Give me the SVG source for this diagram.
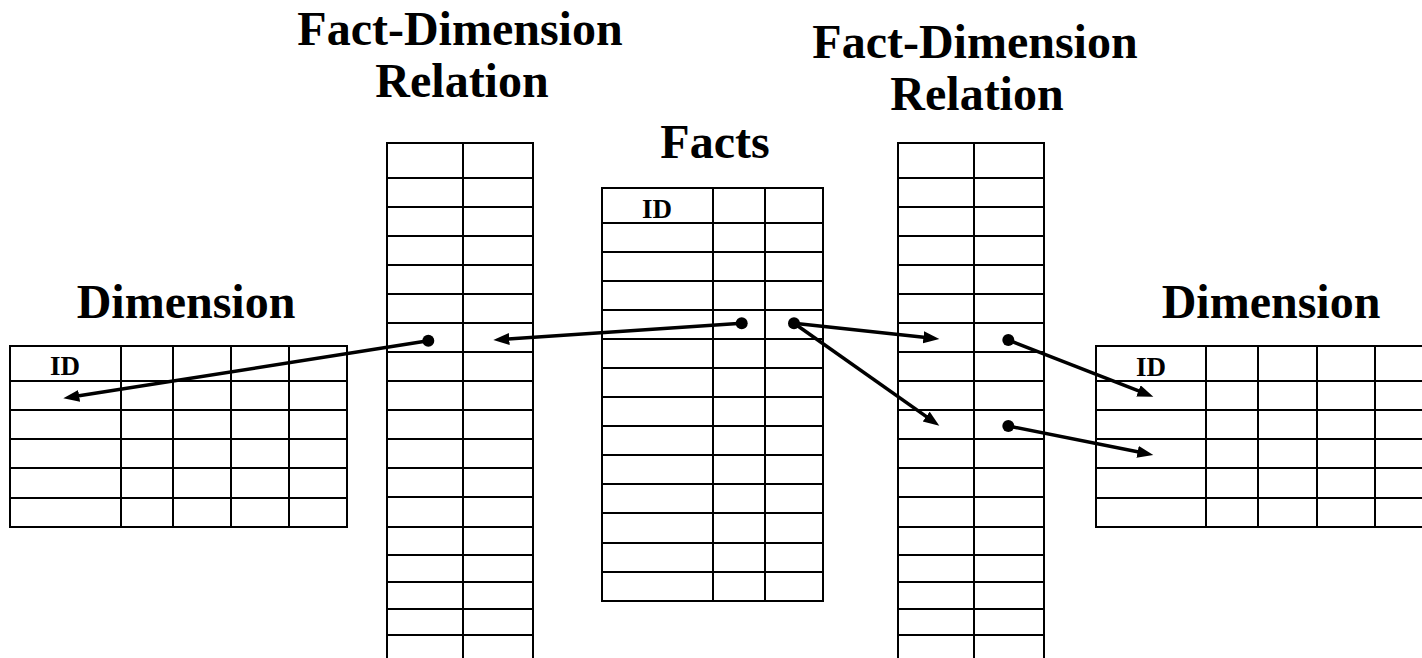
<svg xmlns="http://www.w3.org/2000/svg" width="1422" height="658" viewBox="0 0 1422 658">
<style>
.t{fill:none;stroke:#000;stroke-width:2}
.title{font-family:"Liberation Serif","Times New Roman",serif;font-weight:bold;font-size:48px;text-anchor:middle;fill:#000}
.id{font-family:"Liberation Serif","Times New Roman",serif;font-weight:bold;font-size:27px;text-anchor:middle;fill:#000}
.c{stroke:#000;stroke-width:3.5;fill:none;marker-end:url(#ah)}
.dot{fill:#000}
</style>
<defs>
<marker id="ah" markerUnits="userSpaceOnUse" markerWidth="18" markerHeight="14" refX="5" refY="6" orient="auto">
<path d="M0,0 L16,6 L0,12 z" fill="#000"/>
</marker>
</defs>
<rect width="1422" height="658" fill="#fff"/>

<g id="title-fdr-left">
<text class="title" x="460" y="45">Fact-Dimension</text>
<text class="title" x="462" y="97">Relation</text>
</g>
<g id="title-fdr-right">
<text class="title" x="975" y="58">Fact-Dimension</text>
<text class="title" x="977" y="110">Relation</text>
</g>
<g id="title-facts"><text class="title" x="715" y="158">Facts</text></g>
<g id="title-dim-left"><text class="title" x="186" y="318">Dimension</text></g>
<g id="title-dim-right"><text class="title" x="1271" y="318">Dimension</text></g>

<g id="dim-left" class="t">
<rect x="10" y="346" width="337" height="181"/>
<path d="M10,381H347M10,410H347M10,439H347M10,468H347M10,498H347M121,346V527M173,346V527M231,346V527M289,346V527"/>
<text class="id" x="65" y="375" stroke="none">ID</text>
</g>

<g id="fdr-left" class="t">
<rect x="387" y="143" width="146" height="530"/>
<path d="M463,143V673M387,178H533M387,207H533M387,236H533M387,265H533M387,294H533M387,323H533M387,352H533M387,381H533M387,410H533M387,439H533M387,468H533M387,497H533M387,527H533M387,555H533M387,582H533M387,609H533M387,635H533"/>
</g>

<g id="facts" class="t">
<rect x="602" y="188" width="221" height="413"/>
<path d="M713,188V601M765,188V601M602,223H823M602,252H823M602,281H823M602,310H823M602,339H823M602,368H823M602,397H823M602,426H823M602,455H823M602,484H823M602,513H823M602,543H823M602,572H823"/>
<text class="id" x="657" y="218" stroke="none">ID</text>
</g>

<g id="fdr-right" class="t">
<rect x="898" y="143" width="146" height="530"/>
<path d="M974,143V673M898,178H1044M898,207H1044M898,236H1044M898,265H1044M898,294H1044M898,323H1044M898,352H1044M898,381H1044M898,410H1044M898,439H1044M898,468H1044M898,497H1044M898,527H1044M898,555H1044M898,582H1044M898,609H1044M898,635H1044"/>
</g>

<g id="dim-right" class="t">
<rect x="1096" y="346" width="337" height="181"/>
<path d="M1096,381H1433M1096,410H1433M1096,439H1433M1096,468H1433M1096,498H1433M1206,346V527M1258,346V527M1317,346V527M1375,346V527"/>
<text class="id" x="1151" y="376" stroke="none">ID</text>
</g>

<g id="connectors">
<line class="c" x1="741.7" y1="323.3" x2="504.3" y2="339.3"/>
<circle class="dot" cx="741.7" cy="323.3" r="6"/>
<line class="c" x1="428.3" y1="340.7" x2="74.2" y2="396.6"/>
<circle class="dot" cx="428.3" cy="340.7" r="6"/>
<line class="c" x1="794" y1="323.3" x2="928.4" y2="337.8"/>
<line class="c" x1="794" y1="323.3" x2="930.3" y2="419.4"/>
<circle class="dot" cx="794" cy="323.3" r="6"/>
<line class="c" x1="1008.3" y1="340" x2="1143.1" y2="392.7"/>
<circle class="dot" cx="1008.3" cy="340" r="6"/>
<line class="c" x1="1008.3" y1="426" x2="1142.5" y2="452.8"/>
<circle class="dot" cx="1008.3" cy="426" r="6"/>
</g>
</svg>
